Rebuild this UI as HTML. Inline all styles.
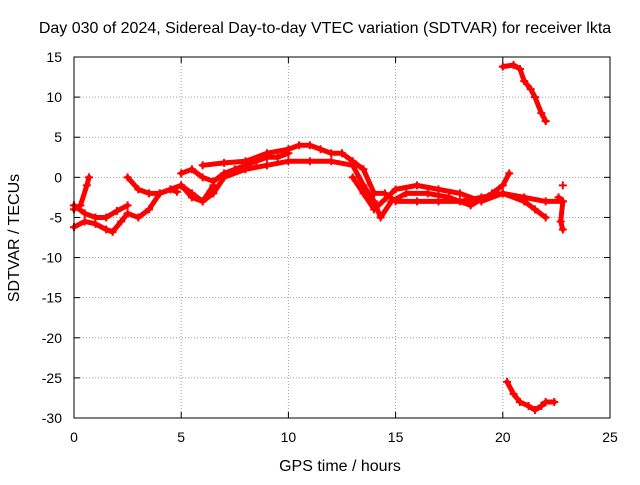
<!DOCTYPE html>
<html><head><meta charset="utf-8"><style>
body{margin:0;background:#fff;}
svg text{font-family:"Liberation Sans",sans-serif;font-size:14px;fill:#000;}
svg text.big{font-size:16px;}
</style></head><body>
<svg width="640" height="480" id="chart">
<rect width="640" height="480" fill="#fff"/>
<text class="big" x="325" y="33" text-anchor="middle">Day 030 of 2024, Sidereal Day-to-day VTEC variation (SDTVAR) for receiver lkta</text>
<text class="big" x="340" y="471" text-anchor="middle">GPS time / hours</text>
<text class="big" transform="translate(19,238) rotate(-90)" text-anchor="middle">SDTVAR / TECUs</text>
<g id="grid"></g><g id="marks"></g><g id="axes"></g>
</svg>
<script>
const xTicks=[0,5,10,15,20,25];
const yTicks=[15,10,5,0,-5,-10,-15,-20,-25,-30];
const track1=[[0,-6.2],[0.5,-5.5],[1,-5.8],[1.5,-6.5],[1.8,-6.8],[2.2,-5.5],[2.5,-4.5],[3,-5],[3.5,-4],[4,-2],[4.5,-1.5],[4.8,-1.8]];
const track2=[[0,-4],[0.3,-3.5],[0.6,-1],[0.7,0]];
const track3=[[0,-3.5],[0.5,-4.5],[1,-5],[1.5,-5],[2,-4.2],[2.5,-3.5]];
const track4=[[2.5,0],[3,-1.5],[3.5,-2],[4,-2],[4.5,-1.5],[5,-1],[5.5,-2],[6,-3],[6.5,-1]];
const track5=[[5,0.5],[5.5,1],[6,0],[6.5,-0.5],[7,0.5],[7.5,1],[8,1.5],[8.5,2],[9,2.5],[9.5,2.5],[10,3]];
const track6=[[6,1.5],[7,1.8],[8,2],[9,3],[10,3.5],[10.5,4],[11,4],[11.5,3.5],[12,3],[12.5,3],[13,2],[13.5,1],[14,-2],[14.5,-2],[15,-3],[16,-3],[17,-3],[18,-3],[19,-2.5],[20,-2],[21,-2.5],[22,-3],[22.8,-3]];
const track7=[[5,-1],[5.5,-2.5],[6,-3],[6.5,-2],[7,0],[8,1],[9,1.5],[10,2],[11,2],[12,2],[13,1.5],[13.5,-1],[14,-3],[14.3,-5],[14.8,-3],[15.5,-2],[16.5,-2],[17.5,-2.5],[18.5,-3.5],[19.5,-2],[20,-1],[20.3,0.5]];
const track8=[[13,0],[13.5,-2],[14,-4],[15,-1.5],[16,-1],[17,-1.5],[18,-2],[19,-3],[20,-2],[21,-3],[21.5,-4],[22,-5]];
const track9=[[20,13.8],[20.5,14],[20.8,13.5],[21,12],[21.3,11],[21.5,10],[21.8,8],[22,7]];
const track10=[[20.2,-25.5],[20.5,-27],[20.8,-28],[21.2,-28.5],[21.5,-29],[21.8,-28.5],[22,-28],[22.4,-28]];
const track11=[[22.6,-2.5],[22.8,-3],[22.7,-5.5],[22.8,-6.5]];
const isolated=[[22.8,-1]];
const tracks=[track1,track2,track3,track4,track5,track6,track7,track8,track9,track10,track11];
const X0=74,X1=610,Y0=57,Y1=418;
const sx=v=>X0+(v-0)/25*(X1-X0);
const sy=v=>Y0+(15-v)/45*(Y1-Y0);
const NS="http://www.w3.org/2000/svg";
function mk(t,a,p){const e=document.createElementNS(NS,t);for(const k in a)e.setAttribute(k,a[k]);p.appendChild(e);return e;}
const grid=document.getElementById('grid'),marks=document.getElementById('marks'),axes=document.getElementById('axes');
xTicks.forEach(t=>{const x=sx(t);
 if(t>0&&t<25){const g=mk('line',{x1:x,x2:x,y1:Y0,y2:Y1,stroke:'#a0a0a0','stroke-dasharray':'1,2'},grid);
 
 }
 mk('line',{x1:x,x2:x,y1:Y1,y2:Y1-6,stroke:'#000'},axes);
 mk('line',{x1:x,x2:x,y1:Y0,y2:Y0+6,stroke:'#000'},axes);
 const l=mk('text',{x:x,y:Y1+24,'text-anchor':'middle'},axes);l.textContent=t;
 
 });
yTicks.forEach(t=>{const y=sy(t);
 if(t<15&&t>-30){const g=mk('line',{x1:X0,x2:X1,y1:y,y2:y,stroke:'#a0a0a0','stroke-dasharray':'1,2'},grid);
 
 }
 mk('line',{x1:X0,x2:X0+6,y1:y,y2:y,stroke:'#000'},axes);
 mk('line',{x1:X1,x2:X1-6,y1:y,y2:y,stroke:'#000'},axes);
 const l=mk('text',{x:X0-12,y:y+5,'text-anchor':'end'},axes);l.textContent=t;
 
 });
const b=mk('rect',{x:X0,y:Y0,width:X1-X0,height:Y1-Y0,fill:'none',stroke:'#000'},axes);


tracks.forEach(tr=>{
 const pl=mk('polyline',{points:tr.map(p=>sx(p[0])+','+sy(p[1])).join(' '),fill:'none',stroke:'#f00','stroke-width':5,'stroke-linejoin':'round','stroke-linecap':'round'},marks);
 
 
});
tracks.concat([isolated]).forEach(tr=>tr.forEach(p=>{const x=sx(p[0]),y=sy(p[1]);
 const m=mk('path',{d:`M${x-4},${y}H${x+4}M${x},${y-4}V${y+4}`,stroke:'#f00','stroke-width':2},marks);
 
 }));
</script>
</body></html>
